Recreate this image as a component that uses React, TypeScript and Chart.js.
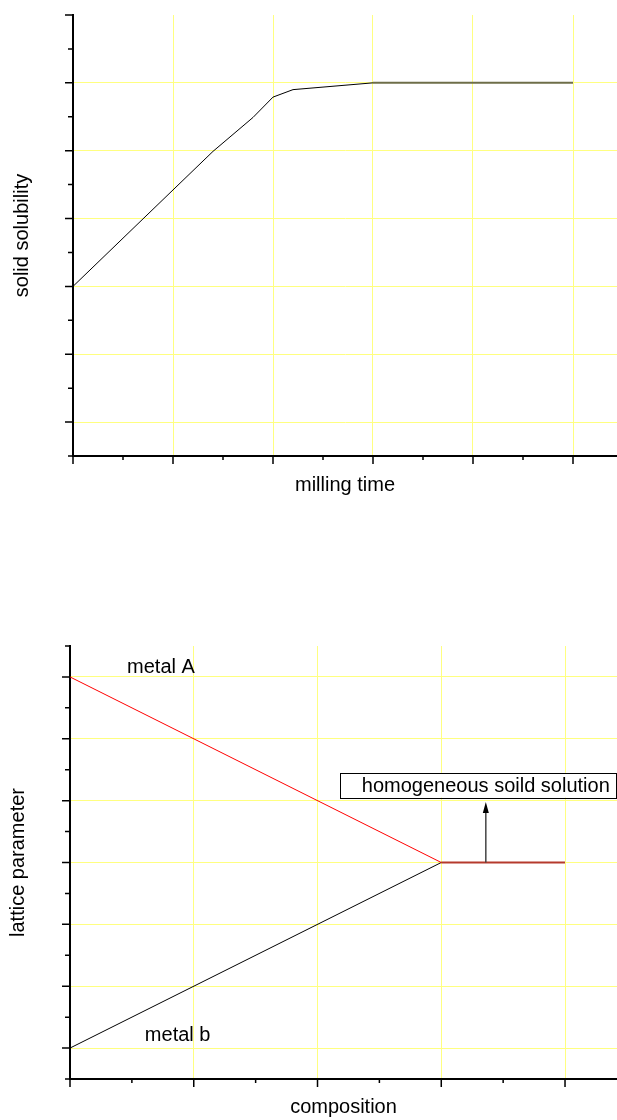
import React, { useEffect, useRef } from "react";
import { Chart, registerables } from "chart.js";

Chart.register(...registerables);

const FONT = 'Arial, "Liberation Sans", Helvetica, sans-serif';
const GRID = "#ffff80";

// ---------- Chart 1: solid solubility vs milling time ----------
const MILL_TIME = [0, 1.4, 1.8, 2.0, 2.2, 3.0];
const SOLUBILITY = [2.0, 3.99, 4.49, 4.79, 4.9, 5.0];
const PLATEAU_TIME = [3.0, 5.0];
const PLATEAU_SOL = [5.0, 5.0];
const TOP_X_MAJOR = [0, 1, 2, 3, 4, 5];
const TOP_X_MINOR = [0.5, 1.5, 2.5, 3.5, 4.5];
const TOP_Y_MAJOR = [0, 1, 2, 3, 4, 5, 6];
const TOP_Y_MINOR = [-0.5, 0.5, 1.5, 2.5, 3.5, 4.5, 5.5];
const TOP_X_GRID = [1, 2, 3, 4, 5];
const TOP_Y_GRID = [0, 1, 2, 3, 4, 5];

// ---------- Chart 2: lattice parameter vs composition ----------
const COMP_A = [0, 3];
const LATTICE_A = [6, 3];
const COMP_B = [0, 3];
const LATTICE_B = [0, 3];
const COMP_SS = [3, 4];
const LATTICE_SS = [3, 3];
const BOT_X_MAJOR = [0, 1, 2, 3, 4];
const BOT_X_MINOR = [0.5, 1.5, 2.5, 3.5];
const BOT_Y_MAJOR = [0, 1, 2, 3, 4, 5, 6];
const BOT_Y_MINOR = [-0.5, 0.5, 1.5, 2.5, 3.5, 4.5, 5.5, 6.5];
const BOT_X_GRID = [1, 2, 3, 4];
const BOT_Y_GRID = [0, 1, 2, 3, 4, 5, 6];

const LABEL_A = "metal A";
const LABEL_A_POS = [0.735, 6.15];
const LABEL_B = "metal b";
const LABEL_B_POS = [0.87, 0.21];
const SS_TEXT = "homogeneous soild solution";
const SS_BOX_X = [2.18, 4.41];
const SS_BOX_Y = [4.05, 4.45];
const ARROW_X = 3.36;
const ARROW_Y = [3.0, 3.98];

const pts = (xs: number[], ys: number[]) => xs.map((x, i) => ({ x, y: ys[i] }));

function axisTicks(xMajor: number[], xMinor: number[], yMajor: number[], yMinor: number[]) {
  return {
    id: "axisTicks",
    afterDraw(chart: any) {
      const { ctx, chartArea, scales } = chart;
      const { left, bottom } = chartArea;
      const x = scales.x;
      const y = scales.y;
      ctx.save();
      ctx.strokeStyle = "#000";
      ctx.lineWidth = 1.5;
      ctx.beginPath();
      xMajor.forEach((v) => {
        const p = x.getPixelForValue(v);
        ctx.moveTo(p, bottom);
        ctx.lineTo(p, bottom + 8);
      });
      xMinor.forEach((v) => {
        const p = x.getPixelForValue(v);
        ctx.moveTo(p, bottom);
        ctx.lineTo(p, bottom + 4);
      });
      yMajor.forEach((v) => {
        const p = y.getPixelForValue(v);
        ctx.moveTo(left, p);
        ctx.lineTo(left - 8, p);
      });
      yMinor.forEach((v) => {
        const p = y.getPixelForValue(v);
        ctx.moveTo(left, p);
        ctx.lineTo(left - 5, p);
      });
      ctx.stroke();
      ctx.restore();
    },
  };
}

const annotations = {
  id: "annotations",
  afterDraw(chart: any) {
    const { ctx, scales } = chart;
    const x = scales.x;
    const y = scales.y;
    ctx.save();
    ctx.fillStyle = "#000";
    ctx.font = `20px ${FONT}`;
    ctx.textAlign = "center";
    ctx.textBaseline = "middle";
    ctx.fillText(LABEL_A, x.getPixelForValue(LABEL_A_POS[0]), y.getPixelForValue(LABEL_A_POS[1]));
    ctx.fillText(LABEL_B, x.getPixelForValue(LABEL_B_POS[0]), y.getPixelForValue(LABEL_B_POS[1]));

    // box
    const bx0 = x.getPixelForValue(SS_BOX_X[0]);
    const bx1 = x.getPixelForValue(SS_BOX_X[1]);
    const by0 = y.getPixelForValue(SS_BOX_Y[1]);
    const by1 = y.getPixelForValue(SS_BOX_Y[0]);
    ctx.fillStyle = "#fff";
    ctx.fillRect(bx0, by0, bx1 - bx0, by1 - by0);
    ctx.strokeStyle = "#000";
    ctx.lineWidth = 1;
    ctx.strokeRect(Math.round(bx0) + 0.5, Math.round(by0) + 0.5, Math.round(bx1 - bx0), Math.round(by1 - by0));
    ctx.fillStyle = "#000";
    ctx.fillText(SS_TEXT, x.getPixelForValue(ARROW_X), (by0 + by1) / 2 + 1);

    // arrow
    const ax = x.getPixelForValue(ARROW_X);
    const ay0 = y.getPixelForValue(ARROW_Y[0]);
    const ay1 = y.getPixelForValue(ARROW_Y[1]);
    ctx.strokeStyle = "#444";
    ctx.lineWidth = 1.5;
    ctx.beginPath();
    ctx.moveTo(ax, ay0);
    ctx.lineTo(ax, ay1 + 8);
    ctx.stroke();
    ctx.fillStyle = "#000";
    ctx.beginPath();
    ctx.moveTo(ax, ay1);
    ctx.lineTo(ax - 3, ay1 + 11);
    ctx.lineTo(ax + 3, ay1 + 11);
    ctx.closePath();
    ctx.fill();
    ctx.restore();
  },
};

function scaleOpts(
  min: number,
  max: number,
  grid: number[],
  title: string,
  padding: { top: number; bottom: number }
) {
  return {
    type: "linear" as const,
    min,
    max,
    ticks: { display: false },
    grid: { color: GRID, lineWidth: 1, drawTicks: false },
    border: { display: true, color: "#000", width: 2 },
    title: {
      display: true,
      text: title,
      color: "#000",
      font: { size: 20, family: FONT, lineHeight: 1.2 },
      padding,
    },
    afterBuildTicks: (s: any) => {
      s.ticks = grid.map((v) => ({ value: v }));
    },
  };
}

function topConfig(): any {
  return {
    type: "line",
    data: {
      datasets: [
        {
          data: pts(MILL_TIME, SOLUBILITY),
          borderColor: "#000",
          borderWidth: 1,
          pointRadius: 0,
          tension: 0,
        },
        {
          data: pts(PLATEAU_TIME, PLATEAU_SOL),
          borderColor: "#6e6e48",
          borderWidth: 2,
          pointRadius: 0,
          tension: 0,
        },
      ],
    },
    options: {
      responsive: false,
      animation: false,
      devicePixelRatio: 1,
      layout: { padding: { top: 15, left: 0, right: 0, bottom: 0 } },
      plugins: { legend: { display: false }, tooltip: { enabled: false } },
      scales: {
        x: scaleOpts(0, 5.44, TOP_X_GRID, "milling time", { top: 17, bottom: 23 }),
        y: scaleOpts(-0.5, 6, TOP_Y_GRID, "solid solubility", { top: 10, bottom: 39 }),
      },
    },
    plugins: [axisTicks(TOP_X_MAJOR, TOP_X_MINOR, TOP_Y_MAJOR, TOP_Y_MINOR)],
  };
}

function bottomConfig(): any {
  return {
    type: "line",
    data: {
      datasets: [
        {
          data: pts(COMP_A, LATTICE_A),
          borderColor: "#ff0000",
          borderWidth: 1,
          pointRadius: 0,
          tension: 0,
        },
        {
          data: pts(COMP_B, LATTICE_B),
          borderColor: "#000",
          borderWidth: 1,
          pointRadius: 0,
          tension: 0,
        },
        {
          data: pts(COMP_SS, LATTICE_SS),
          borderColor: "#b53a2c",
          borderWidth: 2,
          pointRadius: 0,
          tension: 0,
        },
      ],
    },
    options: {
      responsive: false,
      animation: false,
      devicePixelRatio: 1,
      layout: { padding: { top: 86, left: 0, right: 0, bottom: 0 } },
      plugins: { legend: { display: false }, tooltip: { enabled: false } },
      scales: {
        x: scaleOpts(0, 4.42, BOT_X_GRID, "composition", { top: 16, bottom: 1 }),
        y: scaleOpts(-0.5, 6.5, BOT_Y_GRID, "lattice parameter", { top: 6, bottom: 40 }),
      },
    },
    plugins: [axisTicks(BOT_X_MAJOR, BOT_X_MINOR, BOT_Y_MAJOR, BOT_Y_MINOR), annotations],
  };
}

function ChartCanvas({ make, top, height }: { make: () => any; top: number; height: number }) {
  const ref = useRef<HTMLCanvasElement>(null);
  useEffect(() => {
    const chart = new Chart(ref.current as HTMLCanvasElement, make());
    return () => chart.destroy();
  }, []);
  return (
    <canvas
      ref={ref}
      width={617}
      height={height}
      style={{ position: "absolute", left: 0, top, width: 617, height, display: "block" }}
    />
  );
}

export default function App() {
  return (
    <div
      style={{
        position: "absolute",
        left: 0,
        top: 0,
        width: 617,
        height: 1120,
        overflow: "hidden",
        background: "#fff",
      }}
    >
      <ChartCanvas make={topConfig} top={0} height={520} />
      <ChartCanvas make={bottomConfig} top={560} height={560} />
    </div>
  );
}
